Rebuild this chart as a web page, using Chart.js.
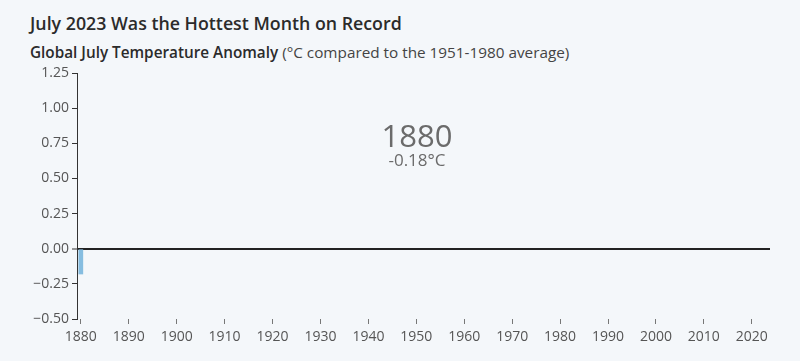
<!DOCTYPE html>
<html>
<head>
<meta charset="utf-8">
<script src="https://cdn.jsdelivr.net/npm/chart.js@4"></script>
<style>
  html, body { margin:0; padding:0; background:#f4f7fa; width:800px; height:361px; overflow:hidden; font-family: "Open Sans", sans-serif; }
  #title { position:absolute; left:30px; top:11px; font-size:17.8px; font-weight:600; color:#2b2b2b; white-space:nowrap; }
  #subtitle { position:absolute; left:30px; top:42px; font-size:15.3px; color:#2b2b2b; white-space:nowrap; }
  #subtitle b { font-weight:600; }
  #subtitle span { color:#444; }
  #wrap { position:absolute; left:0; top:60px; width:800px; height:301px; }
</style>
</head>
<body>
<div id="title">July 2023 Was the Hottest Month on Record</div>
<div id="subtitle"><b>Global July Temperature Anomaly</b> <span>(°C compared to the 1951-1980 average)</span></div>
<div id="wrap"><canvas id="c"></canvas></div>
<script>
const years = [1880];
const anomalies = [-0.18];
const xTickYears = [1880,1890,1900,1910,1920,1930,1940,1950,1960,1970,1980,1990,2000,2010,2020];
const yTicks = [-0.5,-0.25,0,0.25,0.5,0.75,1.0,1.25];

const labelPlugin = {
  id: 'yearLabel',
  afterDraw(chart) {
    const ctx = chart.ctx;
    const i = years.length - 1;
    const yr = years[i], v = anomalies[i];
    ctx.save();
    ctx.fillStyle = '#6b6b6b';
    ctx.textAlign = 'center';
    ctx.textBaseline = 'middle';
    ctx.font = '31px "Open Sans", sans-serif';
    ctx.fillText(String(yr), 417, 78);
    ctx.font = '17px "Open Sans", sans-serif';
    ctx.fillText(v.toFixed(2) + '°C', 417, 101);
    ctx.restore();
  }
};

new Chart(document.getElementById('c'), {
  type: 'bar',
  data: {
    datasets: [{
      data: years.map((y, i) => ({x: y, y: anomalies[i]})),
      backgroundColor: '#86bde0',
      barThickness: 4
    }]
  },
  options: {
    responsive: true,
    maintainAspectRatio: false,
    animation: false,
    layout: { padding: { top: 13, right: 30, bottom: 0, left: 0 } },
    plugins: { legend: { display: false }, tooltip: { enabled: false } },
    scales: {
      x: {
        type: 'linear',
        offset: false,
        min: 1879.2,
        max: 2023.8,
        afterBuildTicks(scale) { scale.ticks = xTickYears.map(v => ({value: v})); },
        afterFit(scale) { scale.height = 42; },
        border: { display: false },
        grid: { offset: false, drawOnChartArea: false, drawTicks: true, tickLength: 5, tickColor: '#777', tickWidth: 1 },
        ticks: { color: '#555', font: { family: '"Open Sans", sans-serif', size: 14 }, padding: 5, maxRotation: 0, autoSkip: false, callback: v => String(v) }
      },
      y: {
        min: -0.5,
        max: 1.25,
        afterBuildTicks(scale) { scale.ticks = yTicks.map(v => ({value: v})); },
        afterFit(scale) { scale.width = 77; },
        border: { display: true, color: '#333', width: 1 },
        grid: {
          drawOnChartArea: true,
          color: c => (c.tick && c.tick.value === 0) ? '#222' : 'rgba(0,0,0,0)',
          lineWidth: c => (c.tick && c.tick.value === 0) ? 2 : 1,
          tickColor: '#333', tickWidth: 1, tickLength: 5
        },
        ticks: {
          color: '#555', font: { family: '"Open Sans", sans-serif', size: 14 }, padding: 3,
          callback: v => (v < 0 ? '\u2212' : '') + Math.abs(v).toFixed(2)
        }
      }
    }
  },
  plugins: [labelPlugin]
});
</script>
</body>
</html>
